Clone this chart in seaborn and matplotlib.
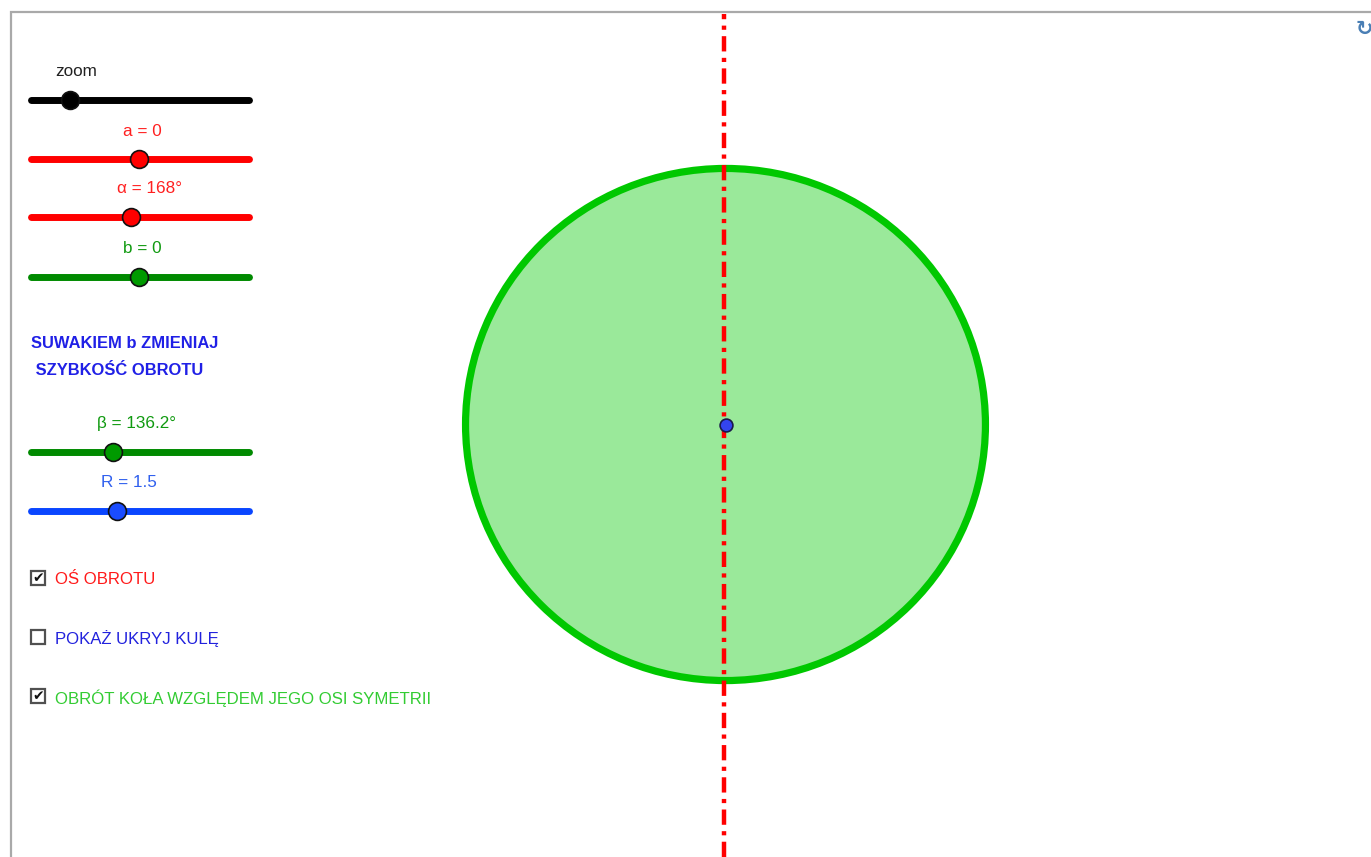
import matplotlib
matplotlib.use("Agg")
import matplotlib.pyplot as plt
from matplotlib.patches import Ellipse, Rectangle
import seaborn as sns
import pandas as pd

# ---------------- data ----------------
slider_labels = ["zoom", "a = 0", "α = 168°", "b = 0", "β = 136.2°", "R = 1.5"]
slider_knob_frac = [0.19, 0.50, 0.466, 0.50, 0.383, 0.40]
slider_track_colors = ["#000000", "#ff0000", "#ff0000", "#008a00", "#008a00", "#0a46ff"]
slider_knob_colors = ["#000000", "#ff0000", "#ff0000", "#009a00", "#009a00", "#1a4cff"]
slider_label_colors = ["#222222", "#ff2020", "#ff2020", "#109a10", "#109a10", "#3060ee"]

checkbox_labels = ["OŚ OBROTU", "POKAŻ UKRYJ KULĘ", "OBRÓT KOŁA WZGLĘDEM JEGO OSI SYMETRII"]
checkbox_checked = [True, False, True]
checkbox_colors = ["#ff1a1a", "#2222dd", "#33cc33"]

title_lines = ["SUWAKIEM b ZMIENIAJ", " SZYBKOŚĆ OBROTU"]

R = 1.5          # circle radius (units)
beta = 136.2     # rotation angle (deg)

# ---------------- layout (pixels) ----------------
W, H = 1371, 857
track_x0, track_x1 = 31, 249
slider_y = [99.5, 159, 216.5, 276.5, 451.5, 511]
slider_label_pos = [(55, 71), (123, 131), (117, 188), (123, 248), (97, 423), (101, 482)]
title_pos = [(31, 344), (31, 370)]
checkbox_y = [580, 639, 698]
unit_px = 173.3
center_px = (725.5, 424.5)

sns.set_theme(style="white")
plt.rcParams["font.family"] = ["Liberation Sans", "DejaVu Sans"]
plt.rcParams["lines.scale_dashes"] = False

fig = plt.figure(figsize=(W / 100, H / 100), dpi=100)
ax = fig.add_axes([0, 0, 1, 1])
ax.set_xlim(0, W)
ax.set_ylim(H, 0)
ax.axis("off")

# frame
ax.plot([11, 11, W], [H, 12, 12], color="#a9a9a9", lw=1.6, solid_joinstyle="miter")

# circle (filled disc)
ell = Ellipse(center_px, width=2 * R * unit_px, height=2 * R * unit_px * 0.985,
              facecolor="#9ae99a", edgecolor="#00c800", lw=5.2, zorder=2)
ax.add_patch(ell)

# rotation axis
ax.axvline(center_px[0] - 1.5, ymin=0, ymax=1 - 14 / H, color="#ff0000", lw=3.2,
           dashes=[11, 4.6, 3.0, 4.6], dash_capstyle="butt", zorder=3)

# centre point
sns.scatterplot(x=[center_px[0]], y=[center_px[1]], s=85, color="#3344ee",
                edgecolor="#1a1a4a", linewidth=1.2, ax=ax, zorder=5, legend=False)

# sliders
for lab, frac, tc, kc, lc, y, lp in zip(slider_labels, slider_knob_frac, slider_track_colors,
                                        slider_knob_colors, slider_label_colors, slider_y,
                                        slider_label_pos):
    df = pd.DataFrame({"x": [track_x0, track_x1], "y": [y, y]})
    sns.lineplot(data=df, x="x", y="y", color=tc, lw=5.0, solid_capstyle="round",
                 ax=ax, zorder=3)
    kx = 28 + frac * 222
    sns.scatterplot(x=[kx], y=[y], s=165, color=kc, edgecolor="#111111", linewidth=1.2,
                    ax=ax, zorder=4, legend=False)
    ax.text(lp[0], lp[1], lab, color=lc, fontsize=12.3, ha="left", va="center")

# title
for t, p in zip(title_lines, title_pos):
    ax.text(p[0], p[1], t, color="#2020e6", fontsize=11.9, fontweight="bold",
            ha="left", va="center")

# checkboxes
for lab, chk, col, y in zip(checkbox_labels, checkbox_checked, checkbox_colors, checkbox_y):
    ax.add_patch(Rectangle((31, y - 9), 14, 14, facecolor="white", edgecolor="#505050",
                           lw=1.6, zorder=3))
    if chk:
        ax.text(38.5, y - 1.5, "✔", fontsize=10, color="#111111", ha="center", va="center",
                family=["DejaVu Sans"], zorder=4)
    ax.text(55, y, lab, color=col, fontsize=12.1, ha="left", va="center")

# refresh icon (top-right)
ax.text(1364, 29, "↻", fontsize=15, color="#4a7fb5", ha="center", va="center",
        family=["DejaVu Sans"], fontweight="bold")

ax.set_xlabel("")
ax.set_ylabel("")
fig.savefig("out.png", dpi=100)
